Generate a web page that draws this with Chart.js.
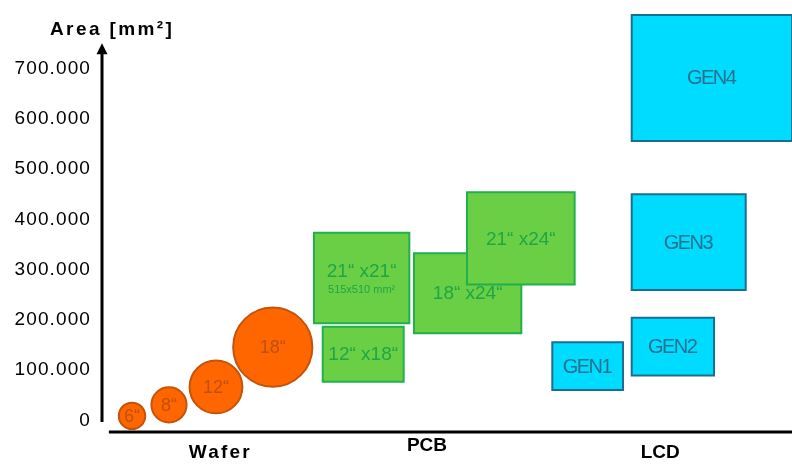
<!DOCTYPE html>
<html>
<head>
<meta charset="utf-8">
<script src="https://cdn.jsdelivr.net/npm/chart.js@4.4.0/dist/chart.umd.min.js"></script>
<style>
  html, body { margin: 0; padding: 0; background: #fff; }
  #wrap { width: 792px; height: 467px; position: relative; }
</style>
</head>
<body>
<div id="wrap"><canvas id="chart"></canvas></div>
<script>
// ---- categories along the horizontal axis (x in percent of plot width) ----
const categories = ['Wafer', 'PCB', 'LCD'];
const categoryX = [17, 47.1, 80.9];

// ---- vertical axis ticks, area in mm² ----
const yTickValues = [0, 100000, 200000, 300000, 400000, 500000, 600000, 700000];

// ---- wafers (circles): diameter in inch, position and area level ----
const waferLabels = ['6“', '8“', '12“', '18“'];
const waferInches = [6, 8, 12, 18];
const waferX = [4.35, 9.71, 16.52, 24.75];
const waferArea = [9000, 31000, 66600, 145700];

// ---- PCB panels (rectangles) ----
const pcbLabels = ['12“ x18“', '21“ x21“', '18“ x24“', '21“ x24“'];
const pcbSubLabels = ['', '515x510 mm²', '', ''];
const pcbX0 = [31.99, 30.72, 45.22, 52.9];
const pcbX1 = [43.72, 44.54, 60.77, 68.5];
const pcbYLow = [77100, 193200, 173400, 270400];
const pcbYHigh = [186500, 373400, 332400, 453700];

// ---- LCD glass generations (rectangles) ----
const lcdLabels = ['GEN1', 'GEN2', 'GEN3', 'GEN4'];
const lcdX0 = [65.26, 76.77, 76.77, 76.77];
const lcdX1 = [75.51, 88.70, 93.29, 100];
const lcdYLow = [60600, 89100, 259400, 555700];
const lcdYHigh = [155500, 204400, 449700, 806200];

const FONT = "'Liberation Sans', Arial, Helvetica, sans-serif";
const R_PER_INCH = 2.2;

const waferStyle = { fill: '#ff6600', line: '#c4540c', text: '#c0500f' };
const pcbStyle = { fill: '#6acf45', line: '#22b04c', text: '#1fa54a' };
const lcdStyle = { fill: '#00dcff', line: '#1b6f8e', text: '#25728f' };

function rectDataset(x0, x1, y0, y1, style, label, sub) {
  return {
    type: 'scatter',
    showLine: true,
    data: [
      { x: x0, y: y0 }, { x: x1, y: y0 }, { x: x1, y: y1 }, { x: x0, y: y1 }, { x: x0, y: y0 }
    ],
    fill: 'shape',
    backgroundColor: style.fill,
    borderColor: style.line,
    borderWidth: 2,
    borderJoinStyle: 'miter',
    borderCapStyle: 'square',
    tension: 0,
    pointRadius: 0,
    pointHoverRadius: 0,
    shapeKind: 'rect',
    shapeLabel: label,
    shapeSub: sub,
    textColor: style.text,
    textFont: (label.startsWith('GEN') ? 'lcd' : 'pcb')
  };
}

// paint order: first entry lies at the bottom
const shapes = [];
shapes.push({
  type: 'bubble',
  data: waferX.map((x, i) => ({ x: x, y: waferArea[i], r: waferInches[i] * R_PER_INCH })),
  backgroundColor: waferStyle.fill,
  borderColor: waferStyle.line,
  borderWidth: 2,
  shapeKind: 'bubble',
  shapeLabels: waferLabels,
  textColor: waferStyle.text
});
pcbLabels.forEach((lab, i) => {
  shapes.push(rectDataset(pcbX0[i], pcbX1[i], pcbYLow[i], pcbYHigh[i], pcbStyle, lab, pcbSubLabels[i]));
});
lcdLabels.forEach((lab, i) => {
  shapes.push(rectDataset(lcdX0[i], lcdX1[i], lcdYLow[i], lcdYHigh[i], lcdStyle, lab, ''));
});
shapes.forEach((ds, i) => { ds.order = shapes.length - i; });

// axis lines with arrow, axis title and category names
const axesPlugin = {
  id: 'arrowAxes',
  beforeDraw(chart) {
    chart.ctx.letterSpacing = '1.1px';
  },
  beforeDatasetsDraw(chart, args, opts) {
    const ctx = chart.ctx;
    ctx.letterSpacing = '0px';
    const { x, y } = chart.scales;
    const area = chart.chartArea;
    ctx.save();
    ctx.strokeStyle = '#000';
    ctx.fillStyle = '#000';
    ctx.lineWidth = 3;
    // horizontal axis
    ctx.beginPath();
    ctx.moveTo(x.getPixelForValue(opts.xLineStart), area.bottom);
    ctx.lineTo(area.right, area.bottom);
    ctx.stroke();
    // vertical axis with arrow head
    const ax = area.left;
    const tip = y.getPixelForValue(opts.arrowTop);
    ctx.beginPath();
    ctx.moveTo(ax, y.getPixelForValue(0) + 1.5);
    ctx.lineTo(ax, tip + 8);
    ctx.stroke();
    ctx.beginPath();
    ctx.moveTo(ax, tip);
    ctx.lineTo(ax - 5.5, tip + 11);
    ctx.lineTo(ax + 5.5, tip + 11);
    ctx.closePath();
    ctx.fill();
    // axis title
    ctx.font = 'bold 19px ' + FONT;
    ctx.letterSpacing = '2.4px';
    ctx.textAlign = 'left';
    ctx.textBaseline = 'middle';
    ctx.fillText('Area [mm²]', ax - 52, tip - 13);
    // category names
    ctx.font = 'bold 19px ' + FONT;
    ctx.textAlign = 'center';
    categories.forEach((name, i) => {
      ctx.letterSpacing = opts.catSpacing[i] + 'px';
      ctx.fillText(name, x.getPixelForValue(categoryX[i]) + opts.catSpacing[i] / 2, area.bottom + opts.catDy[i]);
    });
    ctx.restore();
    ctx.letterSpacing = '0px';
  },
  afterDatasetsDraw(chart) {
    const ctx = chart.ctx;
    const { x, y } = chart.scales;
    ctx.save();
    ctx.textAlign = 'center';
    ctx.textBaseline = 'middle';
    chart.data.datasets.forEach(ds => {
      ctx.fillStyle = ds.textColor;
      if (ds.shapeKind === 'bubble') {
        ctx.font = '18px ' + FONT;
        ctx.letterSpacing = '0px';
        ds.data.forEach((p, i) => {
          ctx.fillText(ds.shapeLabels[i], x.getPixelForValue(p.x), y.getPixelForValue(p.y) + 1);
        });
      } else {
        const pts = ds.data;
        const cx = (x.getPixelForValue(pts[0].x) + x.getPixelForValue(pts[1].x)) / 2;
        const cy = (y.getPixelForValue(pts[0].y) + y.getPixelForValue(pts[2].y)) / 2;
        if (ds.textFont === 'lcd') {
          ctx.font = '20px ' + FONT;
          ctx.letterSpacing = '-1.5px';
          ctx.fillText(ds.shapeLabel, cx - 0.75, cy + 1);
        } else if (ds.shapeSub) {
          ctx.font = '19px ' + FONT;
          ctx.letterSpacing = '0px';
          ctx.fillText(ds.shapeLabel, cx, cy - 6);
          ctx.font = '11px ' + FONT;
          ctx.fillText(ds.shapeSub, cx, cy + 12);
        } else {
          ctx.font = '19px ' + FONT;
          ctx.letterSpacing = '0px';
          ctx.fillText(ds.shapeLabel, cx, cy + 1);
        }
      }
    });
    ctx.restore();
    ctx.letterSpacing = '0px';
  }
};

new Chart(document.getElementById('chart'), {
  type: 'scatter',
  data: { datasets: shapes },
  options: {
    responsive: true,
    maintainAspectRatio: false,
    animation: false,
    events: [],
    devicePixelRatio: 1,
    layout: { autoPadding: false, padding: { left: 0, right: 0, top: 0, bottom: 35 } },
    plugins: {
      legend: { display: false },
      tooltip: { enabled: false },
      arrowAxes: { xLineStart: 1, arrowTop: 750000, catDy: [21, 14, 21], catSpacing: [2.2, 0, 0] }
    },
    scales: {
      x: {
        type: 'linear',
        min: 0,
        max: 100,
        display: false
      },
      y: {
        type: 'linear',
        min: -23000,
        max: 836000,
        grid: { display: false, drawTicks: false },
        border: { display: false },
        afterBuildTicks: (scale) => { scale.ticks = yTickValues.map(v => ({ value: v })); },
        afterFit: (scale) => {
          scale.width = 102;
          scale.paddingTop = 0;
          scale.paddingBottom = 0;
        },
        ticks: {
          padding: 11,
          color: '#000',
          font: { family: FONT, size: 19 },
          callback: (v) => v === 0 ? '0' : v.toLocaleString('de-DE')
        }
      }
    }
  },
  plugins: [axesPlugin]
});
</script>
</body>
</html>
